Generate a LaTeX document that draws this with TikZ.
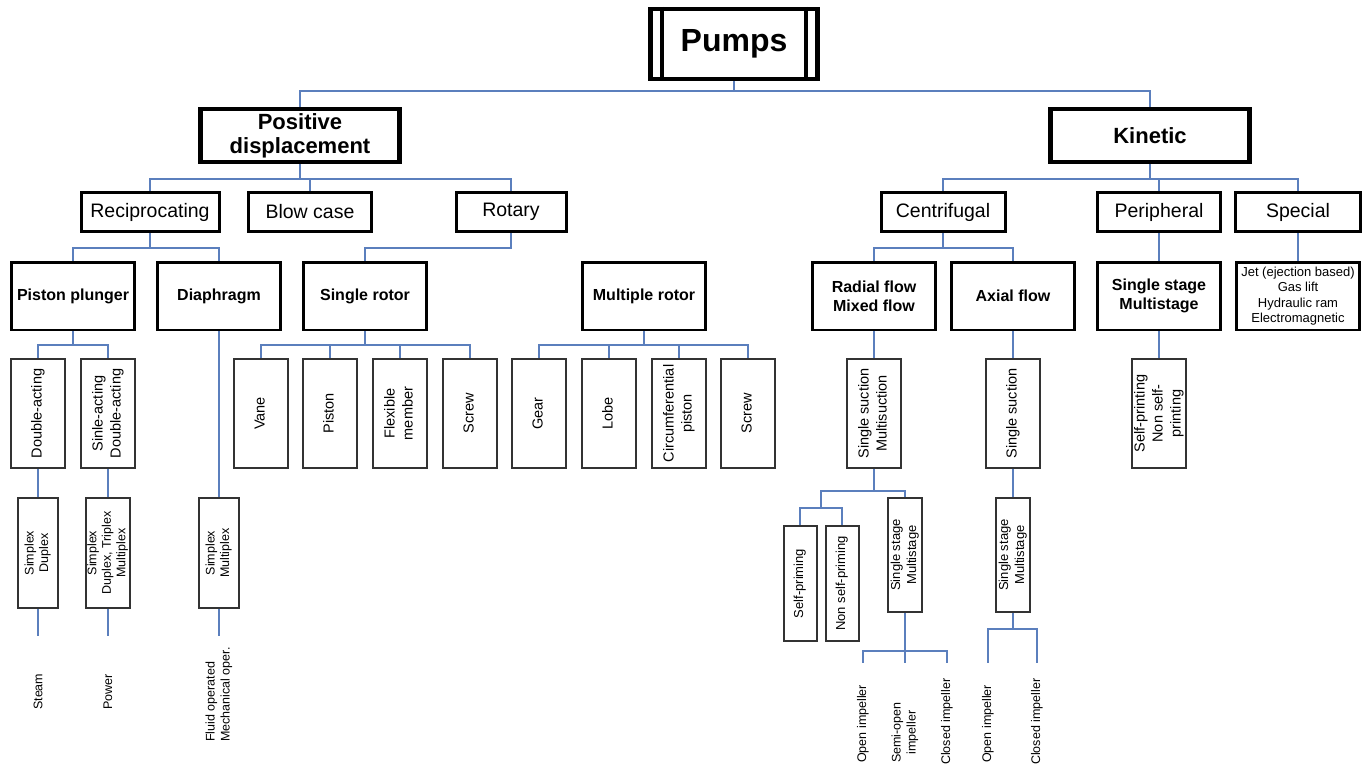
\documentclass[tikz,border=0pt]{standalone}
\usepackage{fontspec}
\setmainfont{Liberation Sans}
\usepackage{graphicx}
\usetikzlibrary{backgrounds}
\definecolor{linkblue}{RGB}{91,127,189}
\newcommand{\vlab}[1]{\rotatebox{90}{\begin{tabular}{@{}c@{}}#1\end{tabular}}}

\begin{document}
\begin{tikzpicture}[
    x=1pt, y=-1pt,
    every node/.style={inner sep=0pt, align=center},
    topbox/.style={rectangle, draw, line width=4.5pt, minimum width=167pt, minimum height=70pt, font=\fontsize{32}{36}\selectfont\bfseries},
    bigbox/.style={rectangle, draw, line width=4.5pt, minimum width=199pt, minimum height=53pt, font=\fontsize{22}{24}\selectfont\bfseries},
    midbox/.style={rectangle, draw, line width=3pt, minimum height=39pt, font=\fontsize{19.5}{21}\selectfont},
    subbox/.style={rectangle, draw, line width=2.5pt, minimum width=123pt, minimum height=67.5pt, font=\fontsize{16}{19}\selectfont\bfseries},
    vbox/.style={rectangle, draw=black!80, line width=2pt, minimum width=54pt, minimum height=109pt, font=\fontsize{14.5}{18}\selectfont},
    smallbox/.style={rectangle, draw=black!80, line width=2pt, minimum width=40pt, minimum height=110pt, font=\fontsize{12.5}{14.5}\selectfont},
    tinybox/.style={rectangle, draw=black!80, line width=2pt, minimum width=33pt, minimum height=115pt, font=\fontsize{13}{16}\selectfont},
    leaf/.style={rotate=90, anchor=west, font=\fontsize{12.5}{15}\selectfont},
    link/.style={draw=linkblue, line width=1.8pt}
]
    \useasboundingbox (0,0) rectangle (1369,769);

    % Root
    \node[topbox] (pumps) at (734,44) {Pumps};
    \draw[line width=4pt] ([xshift=14pt]pumps.north west) -- ([xshift=14pt]pumps.south west);
    \draw[line width=4pt] ([xshift=-14pt]pumps.north east) -- ([xshift=-14pt]pumps.south east);

    % Main classes
    \node[bigbox] (pd) at (300,135.5) {Positive\\displacement};
    \node[bigbox] (kin) at (1150,135.5) {Kinetic};

    % Positive displacement groups
    \node[midbox, minimum width=138pt] (recip) at (150,212) {Reciprocating};
    \node[midbox, minimum width=123pt] (blow) at (310,212) {Blow case};
    \node[midbox, minimum width=110pt] (rotary) at (511,212) {Rotary};

    % Kinetic groups
    \node[midbox, minimum width=124pt] (centri) at (943,212) {Centrifugal};
    \node[midbox, minimum width=123pt] (periph) at (1159,212) {Peripheral};
    \node[midbox, minimum width=125pt] (special) at (1298,212) {Special};

    % Second level
    \node[subbox] (plunger) at (73,296) {Piston plunger};
    \node[subbox] (diaph) at (219,296) {Diaphragm};
    \node[subbox] (single) at (365,296) {Single rotor};
    \node[subbox] (multi) at (644,296) {Multiple rotor};
    \node[subbox] (radial) at (874,296) {Radial flow\\Mixed flow};
    \node[subbox] (axial) at (1013,296) {Axial flow};
    \node[subbox] (stage) at (1159,296) {Single stage\\Multistage};
    \node[subbox, font=\fontsize{13}{15.5}\selectfont] (other) at (1298,296) {Jet (ejection based)\\Gas lift\\Hydraulic ram\\Electromagnetic};

    % Third level
    \node[vbox] (dbl) at (38,413.5) {\vlab{Double-acting}};
    \node[vbox] (sgl) at (108,413.5) {\vlab{Sinle-acting\\Double-acting}};
    \node[vbox] (vane) at (261,413.5) {\vlab{Vane}};
    \node[vbox] (rpiston) at (330,413.5) {\vlab{Piston}};
    \node[vbox] (flex) at (400,413.5) {\vlab{Flexible\\member}};
    \node[vbox] (screwa) at (470,413.5) {\vlab{Screw}};
    \node[vbox] (gear) at (539,413.5) {\vlab{Gear}};
    \node[vbox] (lobe) at (609,413.5) {\vlab{Lobe}};
    \node[vbox] (circ) at (679,413.5) {\vlab{Circumferential\\piston}};
    \node[vbox] (screwb) at (748,413.5) {\vlab{Screw}};
    \node[vbox] (suction) at (874,413.5) {\vlab{Single suction\\Multisuction}};
    \node[vbox] (axsuct) at (1013,413.5) {\vlab{Single suction}};
    \node[vbox] (priming) at (1159,413.5) {\vlab{Self-printing\\Non self-\\printing}};

    % Fourth level
    \node[smallbox] (plexa) at (38,553) {\vlab{Simplex\\Duplex}};
    \node[smallbox] (plexb) at (108,553) {\vlab{Simplex\\Duplex, Triplex\\Multiplex}};
    \node[smallbox] (plexc) at (219,553) {\vlab{Simplex\\Multiplex}};
    \node[tinybox] (selfp) at (800,583.5) {\vlab{Self-priming}};
    \node[tinybox] (nonself) at (842,583.5) {\vlab{Non self-priming}};
    \node[tinybox, minimum width=34pt, minimum height=114pt] (stagea) at (905,555) {\vlab{Single stage\\Multistage}};
    \node[tinybox, minimum width=34pt, minimum height=114pt] (stageb) at (1013,555) {\vlab{Single stage\\Multistage}};

    % Leaves
    \coordinate (prim) at (821,508);
    \coordinate (steamend) at (38,636);
    \coordinate (powerend) at (108,636);
    \coordinate (fluidend) at (219,636);
    \coordinate (openaend) at (863,663);
    \coordinate (semiend) at (905,663);
    \coordinate (closedaend) at (947,663);
    \coordinate (openbend) at (988,663);
    \coordinate (closedbend) at (1037,663);
    \node[leaf] (steam) at (38,710) {Steam};
    \node[leaf] (power) at (108,710) {Power};
    \node[leaf, align=left] (fluid) at (219,742) {Fluid operated\\Mechanical oper.};
    \node[leaf] (opena) at (863,763) {Open impeller};
    \node[leaf] (semi) at (905,763) {Semi-open\\impeller};
    \node[leaf] (closeda) at (947,765) {Closed impeller};
    \node[leaf] (openb) at (988,763) {Open impeller};
    \node[leaf] (closedb) at (1037,765) {Closed impeller};

    % Connectors
    \begin{scope}[on background layer]
        \draw[link] (pumps.south) -- ++(0,10) -| (pd.north);
        \draw[link] (pumps.south) -- ++(0,10) -| (kin.north);
        \draw[link] (pd.south) -- ++(0,15) -| (recip.north);
        \draw[link] (pd.south) -- ++(0,15) -| (blow.north);
        \draw[link] (pd.south) -- ++(0,15) -| (rotary.north);
        \draw[link] (kin.south) -- ++(0,15) -| (centri.north);
        \draw[link] (kin.south) -- ++(0,15) -| (periph.north);
        \draw[link] (kin.south) -- ++(0,15) -| (special.north);
        \draw[link] (recip.south) -- ++(0,15) -| (plunger.north);
        \draw[link] (recip.south) -- ++(0,15) -| (diaph.north);
        \draw[link] (rotary.south) -- ++(0,15) -| (single.north);
        \draw[link] (centri.south) -- ++(0,15) -| (radial.north);
        \draw[link] (centri.south) -- ++(0,15) -| (axial.north);
        \draw[link] (periph.south) -- (stage.north);
        \draw[link] (special.south) -- (other.north);
        \draw[link] (plunger.south) -- ++(0,14) -| (dbl.north);
        \draw[link] (plunger.south) -- ++(0,14) -| (sgl.north);
        \draw[link] (diaph.south) -- (plexc.north);
        \foreach \n in {vane, rpiston, flex, screwa}
            \draw[link] (single.south) -- ++(0,14) -| (\n.north);
        \foreach \n in {gear, lobe, circ, screwb}
            \draw[link] (multi.south) -- ++(0,14) -| (\n.north);
        \draw[link] (radial.south) -- (suction.north);
        \draw[link] (axial.south) -- (axsuct.north);
        \draw[link] (stage.south) -- (priming.north);
        \draw[link] (dbl.south) -- (plexa.north);
        \draw[link] (sgl.south) -- (plexb.north);
        \draw[link] (plexa.south) -- (steamend);
        \draw[link] (plexb.south) -- (powerend);
        \draw[link] (plexc.south) -- (fluidend);
        \draw[link] (suction.south) -- ++(0,22) -| (stagea.north);
        \draw[link] (suction.south) -- ++(0,22) -| (prim);
        \draw[link] (prim) -| (selfp.north);
        \draw[link] (prim) -| (nonself.north);
        \draw[link] (axsuct.south) -- (stageb.north);
        \foreach \n in {openaend, semiend, closedaend}
            \draw[link] (stagea.south) -- ++(0,38) -| (\n);
        \foreach \n in {openbend, closedbend}
            \draw[link] (stageb.south) -- ++(0,16) -| (\n);
    \end{scope}
\end{tikzpicture}
\end{document}
